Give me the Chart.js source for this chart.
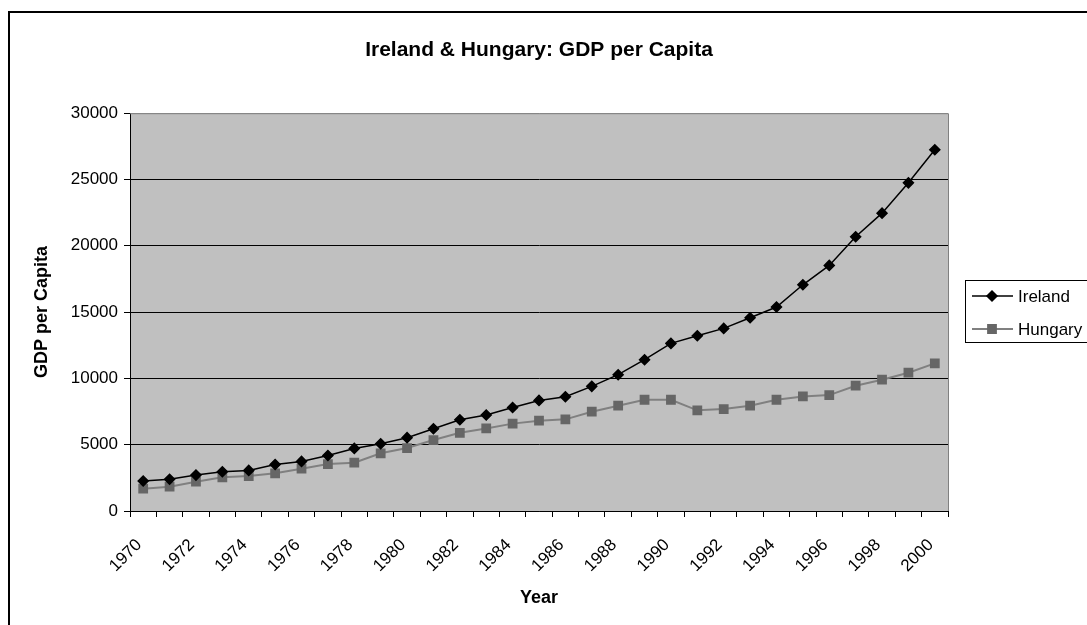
<!DOCTYPE html>
<html>
<head>
<meta charset="utf-8">
<script src="https://cdn.jsdelivr.net/npm/chart.js@4.4.1/dist/chart.umd.min.js"></script>
<style>
  html, body { margin: 0; padding: 0; background: #fff; }
  #wrap { width: 1087px; height: 625px; position: relative; }
</style>
</head>
<body>
<div id="wrap"><canvas id="gdpChart"></canvas></div>
<script>
// Data
const years = ['1970','1971','1972','1973','1974','1975','1976','1977','1978','1979',
  '1980','1981','1982','1983','1984','1985','1986','1987','1988','1989',
  '1990','1991','1992','1993','1994','1995','1996','1997','1998','1999','2000'];
const ireland = [2260, 2390, 2710, 2960, 3060, 3510, 3740, 4190, 4720, 5070,
  5530, 6200, 6880, 7240, 7810, 8340, 8620, 9400, 10280, 11410,
  12640, 13220, 13770, 14570, 15380, 17060, 18520, 20680, 22460, 24750, 27240];
const hungary = [1680, 1830, 2210, 2540, 2640, 2840, 3190, 3540, 3640, 4350,
  4750, 5350, 5900, 6230, 6590, 6810, 6910, 7490, 7940, 8390,
  8390, 7590, 7690, 7940, 8390, 8640, 8740, 9450, 9900, 10430, 11130];
const yTicks = [0, 5000, 10000, 15000, 20000, 25000, 30000];

const FONT = "'Liberation Sans', Arial, sans-serif";

// Gray plot area + border, outer frame
const plotBackground = {
  id: 'plotBackground',
  beforeDraw(chart) {
    const { ctx, chartArea: a } = chart;
    ctx.save();
    ctx.fillStyle = '#c0c0c0';
    ctx.fillRect(a.left, a.top, a.right - a.left, a.bottom - a.top);
    ctx.restore();
  },
  afterDraw(chart) {
    const { ctx, chartArea: a } = chart;
    ctx.save();
    ctx.strokeStyle = '#808080';
    ctx.lineWidth = 1;
    ctx.beginPath();
    ctx.moveTo(a.left, a.top + 0.5);
    ctx.lineTo(a.right + 0.5, a.top + 0.5);
    ctx.lineTo(a.right + 0.5, a.bottom);
    ctx.stroke();
    // outer chart frame (runs off the right and bottom edges)
    ctx.strokeStyle = '#000';
    ctx.lineWidth = 2;
    ctx.strokeRect(9, 12, chart.width + 20, chart.height + 20);
    ctx.restore();
  }
};

// Excel-style boxed legend with line + marker samples
const boxedLegend = {
  id: 'boxedLegend',
  afterDraw(chart) {
    const { ctx } = chart;
    const x = 965, y = 280, rowH = 33;
    ctx.save();
    ctx.fillStyle = '#fff';
    ctx.fillRect(x, y, 200, 63);
    ctx.strokeStyle = '#000';
    ctx.lineWidth = 1;
    ctx.strokeRect(x + 0.5, y + 0.5, 200, 62);
    ctx.font = '17px ' + FONT;
    ctx.textBaseline = 'middle';
    chart.data.datasets.forEach((ds, i) => {
      const cy = y + 16 + i * rowH;
      ctx.strokeStyle = ds.borderColor;
      ctx.lineWidth = ds.borderWidth;
      ctx.beginPath();
      ctx.moveTo(972, cy);
      ctx.lineTo(1013, cy);
      ctx.stroke();
      ctx.fillStyle = ds.pointBackgroundColor;
      ctx.strokeStyle = ds.pointBorderColor;
      Chart.helpers.drawPoint(ctx, {
        pointStyle: ds.pointStyle, radius: ds.pointRadius, borderWidth: 1, rotation: 0
      }, 992, cy);
      ctx.fillStyle = '#000';
      ctx.fillText(ds.label, 1018, cy + 1);
    });
    ctx.restore();
  }
};

new Chart(document.getElementById('gdpChart'), {
  type: 'line',
  data: {
    labels: years,
    datasets: [
      {
        label: 'Ireland',
        data: ireland,
        borderColor: '#000',
        borderWidth: 1.5,
        pointStyle: 'rectRot',
        pointRadius: 5,
        pointBackgroundColor: '#000',
        pointBorderColor: '#000',
        tension: 0
      },
      {
        label: 'Hungary',
        data: hungary,
        borderColor: '#808080',
        borderWidth: 2,
        pointStyle: 'rect',
        pointRadius: 5.5,
        pointBackgroundColor: '#666666',
        pointBorderColor: '#666666',
        tension: 0
      }
    ]
  },
  options: {
    responsive: true,
    maintainAspectRatio: false,
    animation: false,
    devicePixelRatio: 1,
    layout: { padding: { left: 0, right: 139, top: 0, bottom: 0 } },
    plugins: {
      legend: { display: false },
      tooltip: { enabled: false },
      title: {
        display: true,
        fullSize: false,
        text: 'Ireland & Hungary: GDP per Capita',
        color: '#000',
        font: { family: FONT, size: 21, weight: 'bold' },
        padding: { top: 38, bottom: 50 }
      }
    },
    scales: {
      x: {
        offset: true,
        border: { color: '#000', width: 1 },
        grid: { display: true, drawOnChartArea: false, offset: true, tickLength: 6, tickColor: '#000' },
        ticks: {
          autoSkip: false,
          maxRotation: 45,
          minRotation: 45,
          padding: 18,
          labelOffset: -4,
          color: '#000',
          font: { family: FONT, size: 17 },
          callback: (v, i) => (i % 2 === 0 ? years[i] : '')
        },
        title: {
          display: true,
          text: 'Year',
          color: '#000',
          font: { family: FONT, size: 18, weight: 'bold' },
          padding: { top: 4, bottom: 16 }
        },
        afterFit: s => { s.height = 114; }
      },
      y: {
        min: 0,
        max: 30000,
        border: { color: '#000', width: 1 },
        afterBuildTicks: s => { s.ticks = yTicks.map(v => ({ value: v })); },
        grid: {
          color: c => (c.tick && c.tick.value === 30000 ? '#a0a0a0' : '#000'),
          lineWidth: 1,
          tickLength: 6,
          tickColor: '#000'
        },
        ticks: {
          padding: 6,
          color: '#000',
          font: { family: FONT, size: 17 },
          callback: v => String(v)
        },
        title: {
          display: true,
          text: 'GDP per Capita',
          color: '#000',
          font: { family: FONT, size: 18, weight: 'bold' },
          padding: { top: 31, bottom: 0 }
        },
        afterFit: s => { s.width = 130; }
      }
    }
  },
  plugins: [plotBackground, boxedLegend]
});
</script>
</body>
</html>
